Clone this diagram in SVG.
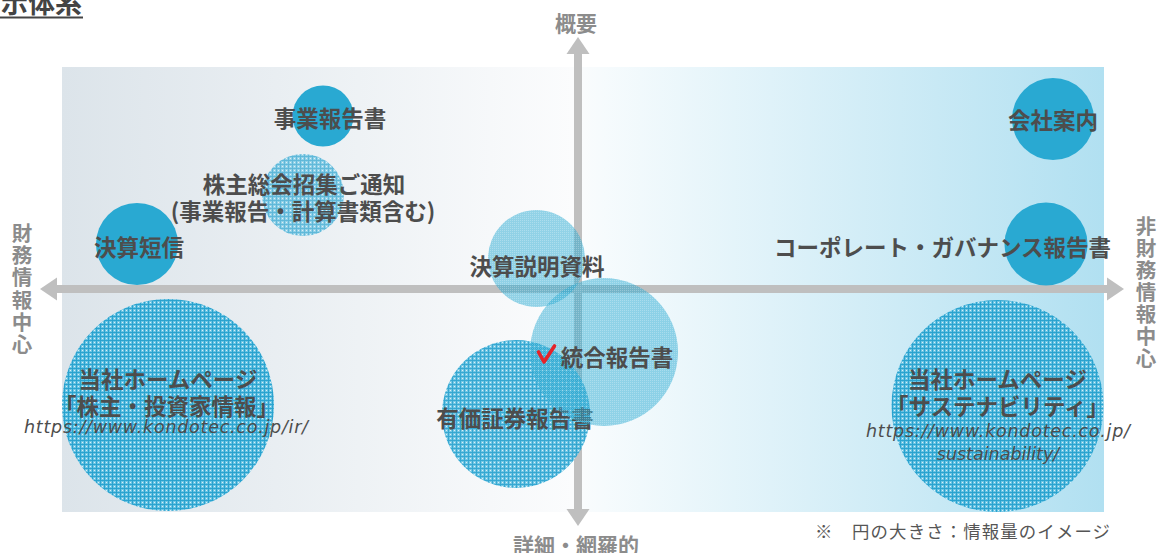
<svg xmlns="http://www.w3.org/2000/svg" width="1158" height="553" viewBox="0 0 1158 553">
<style>
.lbl{font-family:"Noto Sans CJK JP","Noto Sans CJK SC",sans-serif;font-weight:700;font-size:22.5px;fill:#4d4d4d;text-anchor:middle}
.ax{font-family:"Noto Sans CJK JP","Noto Sans CJK SC",sans-serif;font-weight:700;font-size:21px;fill:#8c8c8c;text-anchor:middle}
.vax{font-family:"Noto Sans CJK JP","Noto Sans CJK SC",sans-serif;font-weight:700;font-size:20.5px;fill:#8c8c8c;text-anchor:middle;writing-mode:vertical-rl;text-orientation:upright;letter-spacing:1.6px}
.url{font-family:"DejaVu Sans",sans-serif;font-style:italic;font-size:17.5px;fill:#4d4d4d;text-anchor:middle}
.note{font-family:"Noto Sans CJK JP","Noto Sans CJK SC",sans-serif;font-size:17.4px;fill:#555555}
.title{font-family:"Noto Sans CJK JP","Noto Sans CJK SC",sans-serif;font-weight:700;font-size:27px;fill:#444444}
.solid{fill:#29a9d2}
.dot{fill:url(#pDot)}
.hatch{fill:url(#pHatch)}
.axis{stroke:#bfbfbf;stroke-width:8;fill:none}
.head{fill:#bfbfbf}
</style>
<defs>
<linearGradient id="bg" x1="0" y1="0" x2="1" y2="0">
<stop offset="0" stop-color="#dce4ea"/>
<stop offset="0.49" stop-color="#fbfcfd"/>
<stop offset="0.52" stop-color="#f6fbfd"/>
<stop offset="1" stop-color="#b1e0f1"/>
</linearGradient>
<pattern id="pDot" width="2" height="2" patternUnits="userSpaceOnUse">
<rect width="2" height="2" fill="#29a9d2" fill-opacity="0.5"/>
<rect width="1" height="1" fill="#ffffff" fill-opacity="0.25"/>
</pattern>
<pattern id="pHatch" width="4" height="4" patternUnits="userSpaceOnUse">
<rect width="4" height="4" fill="#6cc4e3"/>
<rect width="4" height="1" fill="#2aa3cf"/>
<rect width="1" height="4" fill="#2aa3cf"/>
<rect x="2" y="2" width="1" height="1" fill="#d8f0f8"/>
</pattern>
</defs>

<g id="title">
<text class="title" x="1" y="13">示体系</text>
<rect x="0" y="16.5" width="83" height="2" fill="#444444"/>
</g>

<rect id="background" x="62" y="67" width="1042" height="445" fill="url(#bg)"/>

<g id="connectors">
<line class="axis" x1="56" y1="289" x2="1108" y2="289"/>
<polygon class="head" points="40,289 57,277.5 57,300.5"/>
<polygon class="head" points="1124,289 1107,277.5 1107,300.5"/>
<line class="axis" x1="578" y1="52" x2="578" y2="510"/>
<polygon class="head" points="578,37 566.5,54 589.5,54"/>
<polygon class="head" points="578,526 566.5,509 589.5,509"/>
</g>

<g id="axis-labels">
<text class="ax" x="576" y="31">概要</text>
<text class="ax" x="576" y="553">詳細・網羅的</text>
<text class="vax" x="22" y="289.5">財務情報中心</text>
<text class="vax" x="1146" y="293">非財務情報中心</text>
</g>

<g id="node-hp-ir">
<circle class="hatch" cx="168" cy="405" r="106"/>
<text class="lbl" x="168" y="387.5">当社ホームページ</text>
<text class="lbl" x="166.5" y="415">「株主・投資家情報」</text>
<text class="url" x="166" y="432.5" textLength="284" lengthAdjust="spacing">https://www.kondotec.co.jp/ir/</text>
</g>

<g id="node-hp-sus">
<circle class="hatch" cx="997.5" cy="406" r="106"/>
<text class="lbl" x="997.5" y="387.5">当社ホームページ</text>
<text class="lbl" x="997.5" y="415">「サステナビリティ」</text>
<text class="url" x="998" y="437" textLength="264" lengthAdjust="spacing">https://www.kondotec.co.jp/</text>
<text class="url" x="998" y="460">sustainability/</text>
</g>

<g id="node-yuho">
<circle class="hatch" cx="516" cy="414" r="74" opacity="0.94"/>
<text class="lbl" x="515" y="426.5">有価証券報告書</text>
</g>

<g id="node-setsumei">
<circle class="dot" cx="536.5" cy="258.5" r="48.5"/>
<text class="lbl" x="537" y="275">決算説明資料</text>
</g>

<g id="node-togo">
<circle class="dot" cx="604" cy="352" r="74"/>
<polyline points="538.5,352 544,362 554.5,346" fill="none" stroke="#e5232a" stroke-width="3.6" stroke-linecap="round" stroke-linejoin="round"/>
<text class="lbl" x="617" y="365.5">統合報告書</text>
</g>

<g id="node-shoshu">
<circle class="hatch" cx="303" cy="195" r="41" opacity="0.72"/>
<text class="lbl" x="304" y="192.5">株主総会招集ご通知</text>
<text class="lbl" x="303" y="219.5">(事業報告・計算書類含む)</text>
</g>

<g id="node-jigyo">
<circle class="solid" cx="323" cy="116" r="30.5"/>
<text class="lbl" x="330" y="126.5">事業報告書</text>
</g>

<g id="node-tanshin">
<circle class="solid" cx="137" cy="244" r="41"/>
<text class="lbl" x="139" y="255.5">決算短信</text>
</g>

<g id="node-annai">
<circle class="solid" cx="1053" cy="119" r="41"/>
<text class="lbl" x="1053" y="128.5">会社案内</text>
</g>

<g id="node-cg">
<circle class="solid" cx="1046" cy="244" r="41.5"/>
<text class="lbl" x="942.5" y="256">コーポレート・ガバナンス報告書</text>
</g>

<g id="note">
<text class="note" x="815" y="538" textLength="295" lengthAdjust="spacing">※　円の大きさ：情報量のイメージ</text>
</g>
</svg>
